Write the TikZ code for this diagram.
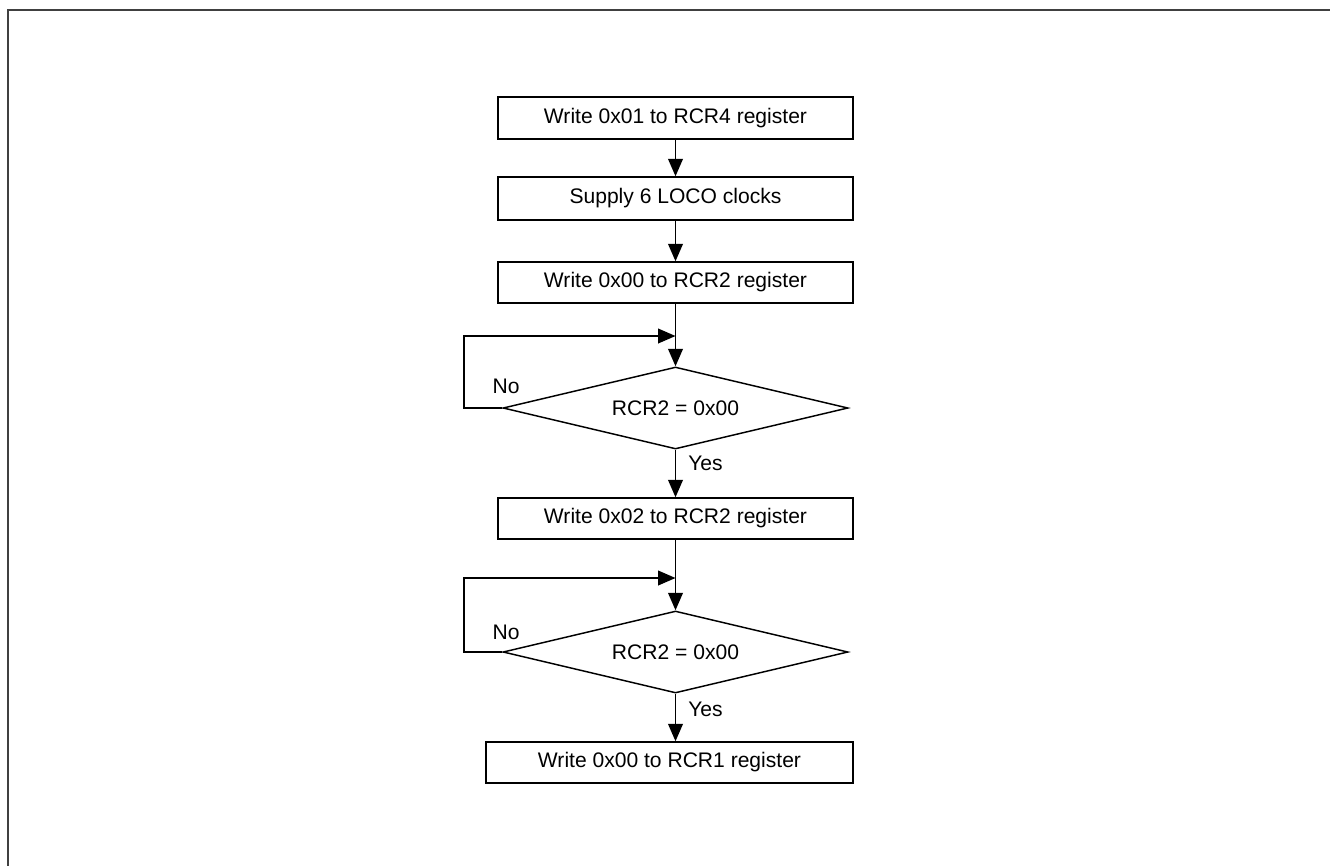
\documentclass[tikz,border=0pt]{standalone}
\usepackage{fontspec}
\setmainfont{Liberation Sans}
\usetikzlibrary{shapes.geometric,arrows.meta}
\begin{document}
\begin{tikzpicture}[x=0.75pt,y=-0.75pt,
  every node/.style={font=\fontsize{15.8}{19}\selectfont},
  stepbox/.style={draw,line width=1.1pt,inner sep=0pt,minimum width=355*0.75pt,minimum height=42*0.75pt},
  decision/.style={draw,line width=1.1pt,shape=diamond,aspect=4.2,inner sep=0pt,minimum width=345*0.75pt,minimum height=82*0.75pt},
  arr/.style={line width=1.1pt,-{Triangle[length=13pt,width=11pt]}},
  lbl/.style={inner sep=0pt}]
\useasboundingbox (0,0) rectangle (1330,865);
\draw[line width=1.6pt,color=black!75] (8,866) -- (8,10) -- (1331,10);
\node[stepbox] (b1) at (675.5,118) {Write 0x01 to RCR4 register};
\node[stepbox,minimum height=43*0.75pt] (b2) at (675.5,198.5) {Supply 6 LOCO clocks};
\node[stepbox,minimum height=41*0.75pt] (b3) at (675.5,282.5) {Write 0x00 to RCR2 register};
\node[decision] (d1) at (675.5,408) {RCR2 = 0x00};
\node[stepbox,minimum height=41*0.75pt] (b4) at (675.5,518.5) {Write 0x02 to RCR2 register};
\node[decision] (d2) at (675.5,652) {RCR2 = 0x00};
\node[stepbox,minimum width=367*0.75pt,minimum height=41*0.75pt] (b5) at (669.5,762.5) {Write 0x00 to RCR1 register};
\coordinate (m1) at (675.5,336);
\coordinate (l1) at (464,336);
\coordinate (m2) at (675.5,578);
\coordinate (l2) at (464,578);
\draw[arr] (b1.south) -- (b2.north);
\draw[arr] (b2.south) -- (b3.north);
\draw[arr] (b3.south) -- (d1.north);
\draw[arr] (d1.west) -| (l1) -- (m1);
\draw[arr] (d1.south) -- (b4.north);
\draw[arr] (b4.south) -- (d2.north);
\draw[arr] (d2.west) -| (l2) -- (m2);
\draw[arr] (d2.south) -- (b5.north -| d2.south);
\node[lbl] (no1) at (506,386) {No};
\node[lbl] (no2) at (506,632) {No};
\node[lbl,anchor=west] (yes1) at (688,463) {Yes};
\node[lbl,anchor=west] (yes2) at (688,709) {Yes};
\end{tikzpicture}
\end{document}
